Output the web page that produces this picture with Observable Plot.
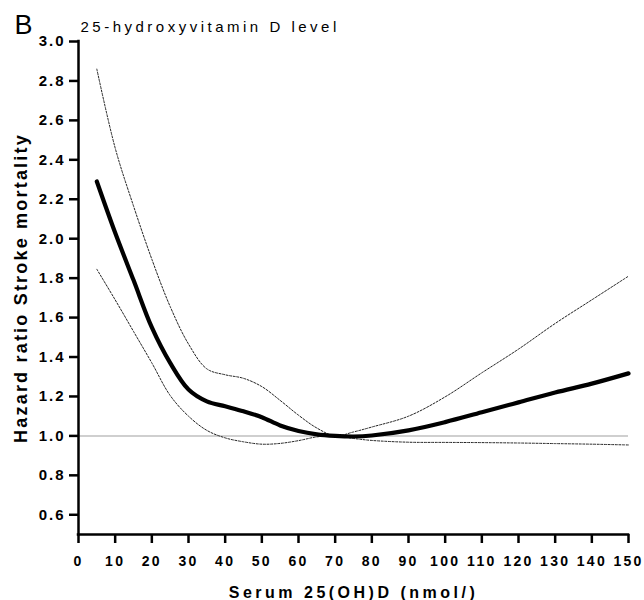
<!DOCTYPE html>
<html>
<head>
<meta charset="utf-8">
<script src="https://cdn.jsdelivr.net/npm/d3@7"></script>
<script src="https://cdn.jsdelivr.net/npm/@observablehq/plot@0.6"></script>
<style>
  body { margin: 0; background: white; }
</style>
</head>
<body>
<div id="chart"></div>
<script>
// ---- data ----
const xs    = [5, 10, 15, 20, 25, 30, 35, 40, 45, 50, 55, 60, 65, 70, 75, 80, 90, 100, 110, 120, 130, 140, 150];
const hr    = [2.29, 2.03, 1.79, 1.55, 1.37, 1.235, 1.175, 1.15, 1.125, 1.095, 1.053, 1.025, 1.008, 1.0, 0.997, 1.002, 1.028, 1.07, 1.12, 1.17, 1.22, 1.265, 1.317];
const upper = [2.86, 2.46, 2.166, 1.896, 1.656, 1.466, 1.34, 1.31, 1.292, 1.25, 1.18, 1.105, 1.04, 1.0, 1.02, 1.045, 1.10, 1.198, 1.32, 1.44, 1.57, 1.69, 1.81];
const lower = [1.845, 1.69, 1.53, 1.37, 1.205, 1.10, 1.028, 0.99, 0.97, 0.958, 0.962, 0.976, 0.995, 1.0, 0.987, 0.977, 0.968, 0.967, 0.966, 0.964, 0.961, 0.958, 0.954];
const xTicks = [0, 10, 20, 30, 40, 50, 60, 70, 80, 90, 100, 110, 120, 130, 140, 150];
const yTicks = [0.6, 0.8, 1.0, 1.2, 1.4, 1.6, 1.8, 2.0, 2.2, 2.4, 2.6, 2.8, 3.0];
const panelLetter = "B";
const titleText = "25-hydroxyvitamin D level";
const xLabel = "Serum 25(OH)D (nmol/)";
const yLabel = "Hazard ratio Stroke mortality";
const refValue = 1.0;

const rows = (ys) => xs.map((x, i) => ({x, y: ys[i]}));

const chart = Plot.plot({
  width: 644,
  height: 600,
  marginLeft: 78,
  marginRight: 16,
  marginTop: 41,
  marginBottom: 66,
  style: {fontFamily: "'Liberation Sans', Arial, sans-serif", background: "white", color: "black"},
  x: {domain: [0, 150]},
  y: {domain: [0.5, 3.0]},
  marks: [
    Plot.ruleY([refValue], {x1: 0, x2: 150, stroke: "#cfcfcf", strokeWidth: 2}),
    Plot.line(rows(upper), {x: "x", y: "y", curve: "catmull-rom", stroke: "#222", strokeWidth: 1, strokeDasharray: "2,1.6"}),
    Plot.line(rows(lower), {x: "x", y: "y", curve: "catmull-rom", stroke: "#222", strokeWidth: 1, strokeDasharray: "2,1.6"}),
    Plot.line(rows(hr), {x: "x", y: "y", curve: "catmull-rom", stroke: "black", strokeWidth: 4.2}),
    Plot.axisY({ticks: yTicks, tickFormat: d3.format(".1f"), tickSize: 9, tickPadding: 4, strokeWidth: 2.5, fontSize: 15, fontWeight: "bold", label: null}),
    Plot.axisX({ticks: xTicks, tickFormat: d3.format("d"), tickSize: 9, tickPadding: 13, strokeWidth: 2.5, fontSize: 14, fontWeight: "bold", label: null}),
    Plot.ruleX([0], {y1: 0.5, y2: 3.0, strokeWidth: 2.5, strokeLinecap: "square"}),
    Plot.ruleY([0.5], {x1: 0, x2: 150, strokeWidth: 2.5, strokeLinecap: "square"}),
    Plot.text([panelLetter], {text: d => d, frameAnchor: "top-left", textAnchor: "start", lineAnchor: "bottom", dx: -64, dy: -8, fontSize: 27}),
    Plot.text([titleText], {text: d => d, frameAnchor: "top-left", textAnchor: "start", lineAnchor: "bottom", dx: 2, dy: -10, fontSize: 15}),
    Plot.text([xLabel], {text: d => d, frameAnchor: "bottom", textAnchor: "middle", lineAnchor: "bottom", dy: 63, fontSize: 16, fontWeight: "bold"}),
    Plot.text([yLabel], {text: d => d, frameAnchor: "left", textAnchor: "middle", lineAnchor: "bottom", rotate: -90, dx: -51.5, fontSize: 18, fontWeight: "bold"})
  ]
});
document.getElementById("chart").appendChild(chart);

// letter spacing, as in the reference typography
const spacingFor = (txt) => {
  if (txt === titleText) return 3.5;
  if (txt === xLabel) return 3.5;
  if (txt === yLabel) return 2.2;
  if (txt === panelLetter) return 0;
  if (yTicks.map(d3.format(".1f")).includes(txt)) return 2;
  return 2.3;
};
d3.select(chart).selectAll("text").each(function() {
  const s = spacingFor(this.textContent);
  this.setAttribute("letter-spacing", s);
  this.style.letterSpacing = s + "px";
});
</script>
</body>
</html>
